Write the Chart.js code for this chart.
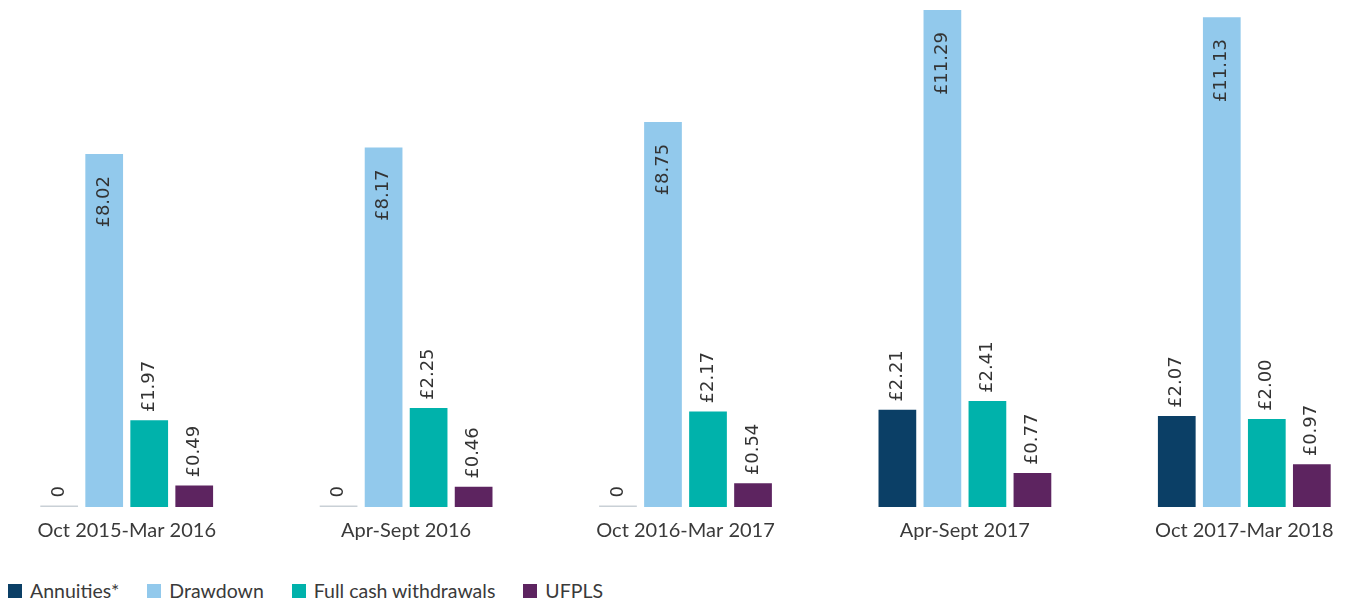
<!DOCTYPE html>
<html>
<head>
<meta charset="utf-8">
<script src="https://cdn.jsdelivr.net/npm/chart.js@4.4.1/dist/chart.umd.min.js"></script>
<style>
  html, body { margin: 0; padding: 0; background: #fff; overflow: hidden; width: 1352px; height: 603px; }
  #wrap { position: absolute; left: -13px; top: 0; width: 1397px; height: 555px; }
  #legend { position: absolute; left: 8px; top: 579px; display: flex; align-items: center;
            font-family: Lato, sans-serif; font-size: 19.5px; color: #3a3a3a; white-space: nowrap; }
  #legend .item { display: flex; align-items: center; margin-right: 28px; }
  #legend .box { width: 14px; height: 14px; margin-right: 8px; }
</style>
</head>
<body>
<div id="wrap"><canvas id="barChart"></canvas></div>
<div id="legend"></div>
<script>
// periods on the x axis
const periods = ['Oct 2015-Mar 2016', 'Apr-Sept 2016', 'Oct 2016-Mar 2017', 'Apr-Sept 2017', 'Oct 2017-Mar 2018'];

// values, £ billions
const annuities = [0, 0, 0, 2.21, 2.07];
const drawdown = [8.02, 8.17, 8.75, 11.29, 11.13];
const fullCash = [1.97, 2.25, 2.17, 2.41, 2.00];
const ufpls = [0.49, 0.46, 0.54, 0.77, 0.97];

const seriesNames = ['Annuities*', 'Drawdown', 'Full cash withdrawals', 'UFPLS'];
const seriesColors = ['#0b3f66', '#92c9ec', '#00b2ab', '#5d2460'];

// bar value labels, rotated
const valueLabels = {
  id: 'valueLabels',
  afterDatasetsDraw(chart) {
    const ctx = chart.ctx;
    ctx.save();
    ctx.font = '18px "DejaVu Sans", sans-serif';
    ctx.fillStyle = '#333';
    ctx.textBaseline = 'middle';
    chart.data.datasets.forEach((ds, i) => {
      const meta = chart.getDatasetMeta(i);
      meta.data.forEach((bar, j) => {
        const v = ds.data[j];
        const txt = v === 0 ? '0' : '£' + v.toFixed(2);
        ctx.save();
        if (i === 1) {
          ctx.translate(bar.x, bar.y + 22);
          ctx.rotate(-Math.PI / 2);
          ctx.textAlign = 'right';
        } else {
          ctx.translate(bar.x, bar.y - 8);
          ctx.rotate(-Math.PI / 2);
          ctx.textAlign = 'left';
        }
        ctx.fillText(txt, 0, 0);
        ctx.restore();
      });
    });
    ctx.restore();
  }
};

window.addEventListener('DOMContentLoaded', () => {
  const allData = [annuities, drawdown, fullCash, ufpls];
  const datasets = allData.map((d, i) => ({
    label: seriesNames[i],
    data: d,
    backgroundColor: i === 0 ? d.map(v => v === 0 ? '#c9d0d6' : seriesColors[0]) : seriesColors[i],
    minBarLength: i === 0 ? 1.5 : 0,
    categoryPercentage: 0.6445,
    barPercentage: 0.838
  }));

  new Chart(document.getElementById('barChart'), {
    type: 'bar',
    data: { labels: periods, datasets: datasets },
    options: {
      responsive: true,
      maintainAspectRatio: false,
      animation: false,
      layout: { padding: 0 },
      plugins: {
        legend: { display: false },
        tooltip: { enabled: false }
      },
      scales: {
        x: {
          grid: { display: false, drawTicks: false },
          border: { display: false },
          ticks: {
            color: '#3a3a3a',
            padding: 12,
            font: { family: 'Lato', size: 20 }
          }
        },
        y: {
          display: false,
          min: 0,
          max: 11.52
        }
      }
    },
    plugins: [valueLabels]
  });

  const legend = document.getElementById('legend');
  legend.innerHTML = seriesNames.map((n, i) =>
    `<span class="item"><span class="box" style="background:${seriesColors[i]}"></span>${n}</span>`
  ).join('');
});
</script>
</body>
</html>
